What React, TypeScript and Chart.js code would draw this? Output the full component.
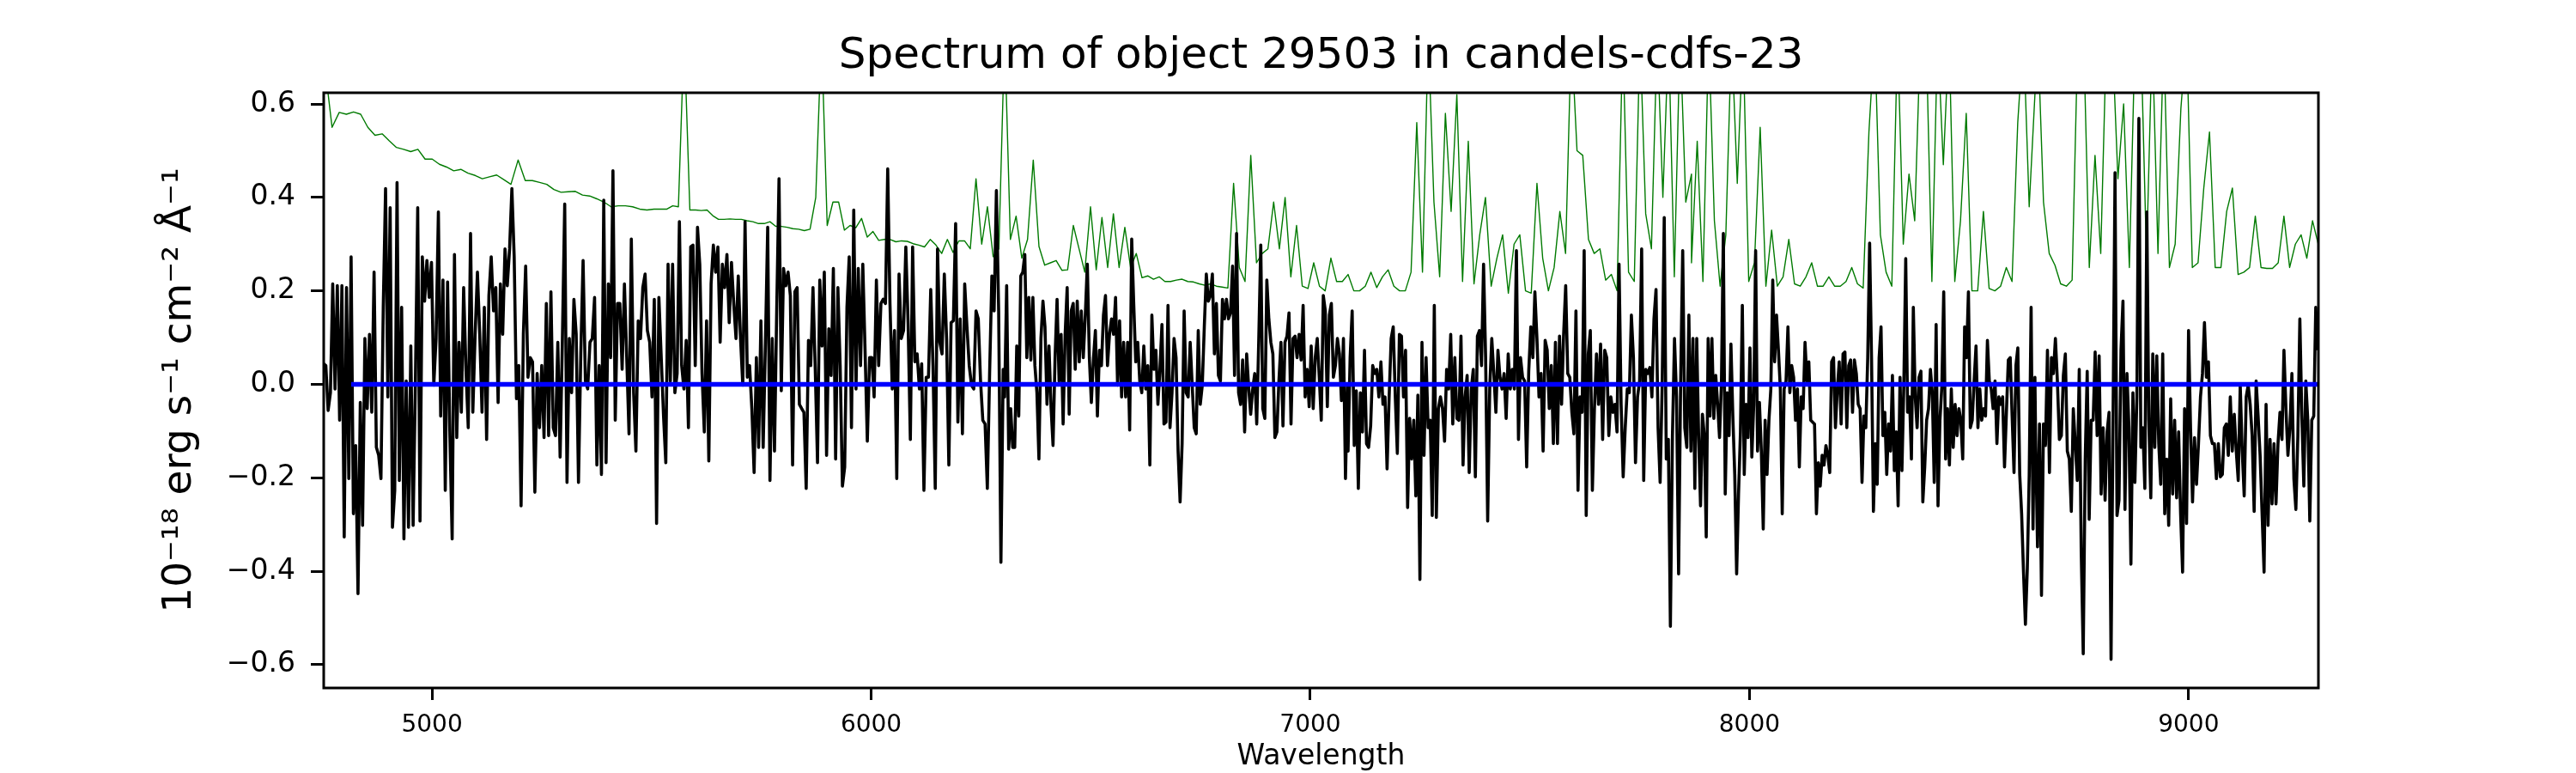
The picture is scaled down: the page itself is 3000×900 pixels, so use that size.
import { useEffect, useRef } from 'react';
import { Chart, registerables } from 'chart.js';

Chart.register(...registerables);

const TITLE = 'Spectrum of object 29503 in candels-cdfs-23';
const X_LABEL = 'Wavelength';
const Y_LABEL = '10⁻¹⁸ erg s⁻¹ cm⁻² Å⁻¹';

const X_MIN = 4753.5;
const X_MAX = 9295.5;
const Y_MIN = -0.65;
const Y_MAX = 0.624;

const X_TICKS = [5000, 6000, 7000, 8000, 9000];
const Y_TICKS = [-0.6, -0.4, -0.2, 0, 0.2, 0.4, 0.6];

// flux (Å range per piece below)
const FLUX_1 = [
  0.044, 0.04, -0.056, -0.018, 0.215, -0.01, 0.211, -0.077, 0.211, -0.327,
  0.207, -0.202, 0.273, -0.277, -0.131, -0.448, -0.039, -0.302, 0.098, -0.052,
  0.107, -0.06, 0.24, -0.135, -0.152, -0.202, 0.165, 0.419, -0.027, 0.378,
  -0.306, -0.227, 0.432, -0.206, 0.165, -0.331, 0.007, -0.306, 0.082, -0.302,
  0.007, 0.378, -0.293, 0.273, 0.178, 0.265, 0.186, 0.261, -0.002, 0.098,
  0.369, -0.068, 0.223, -0.227, 0.219, -0.11, -0.331, 0.278, -0.114, 0.09,
  -0.06, 0.207, 0.032, -0.093, 0.323, -0.06, 0.107, 0.24, 0.107, -0.06,
  0.165, -0.118, 0.19, 0.273, 0.157, 0.207, -0.039, 0.215, 0.107, 0.29,
  0.211, 0.29, 0.419, 0.273, -0.031, 0.04, -0.26, 0.107, 0.253, 0.015,
  0.057, 0.048, -0.231, 0.023, -0.093, 0.04, -0.114, 0.173, -0.11, 0.198,
  -0.093, -0.11, 0.09, -0.156, 0.098, 0.386, -0.21, 0.098, -0.018, 0.182,
  0.107, -0.21, 0.065, 0.265, 0.007, -0.01, 0.09, 0.098, 0.186, -0.173,
  0.04, -0.193, 0.394, -0.168, 0.215, 0.057, 0.457, -0.077, 0.173, 0.173,
  0.032, 0.215, 0.057, -0.106, 0.311, -0.018, -0.143, 0.136, 0.098, 0.207,
  0.236, 0.115, 0.09, -0.027, 0.182, -0.298, 0.186,
];
const FLUX_2 = [
  -0.068, -0.168, 0.257, 0.007, 0.257, -0.018, 0.023, 0.348, 0.04, -0.01,
  0.094, -0.093, 0.294, 0.298, 0.04, 0.336, 0.257, 0.023, -0.102, 0.136,
  -0.164, 0.215, 0.298, 0.24, 0.294, 0.09, 0.257, 0.207, 0.278, 0.132,
  0.261, 0.173, 0.098, 0.232, 0.098, -0.002, 0.348, 0.015, 0.04, -0.052,
  -0.189, 0.057, -0.135, 0.136, -0.135, 0.09, 0.336, -0.206, 0.098, -0.143,
  0.165, 0.44, -0.014, 0.248, 0.211, 0.24, 0.19, -0.173, 0.198, 0.207,
  -0.043, -0.052, -0.06, -0.223, 0.094, 0.04, 0.207, 0.032, -0.168, 0.223,
  0.082, 0.24, -0.152, 0.119, 0.019, 0.248, -0.16, 0.207, 0.04, -0.218,
  -0.177, 0.165, 0.273, -0.093, 0.373, -0.01, 0.248, 0.04, 0.257, 0.073,
  -0.122, 0.057, 0.057, -0.027, 0.223, 0.04, 0.173, 0.182, 0.173, 0.461,
  0.173, -0.01, 0.115, -0.202, 0.236, 0.098, 0.115, 0.294, 0.132, -0.118,
  0.294, 0.048, 0.065, -0.01, 0.044, -0.227, 0.015, 0.015, 0.203, 0.04,
  -0.223, 0.29, 0.09, 0.065, 0.236, 0.098, -0.173, 0.132, 0.136, 0.344,
  -0.081, 0.14, -0.106, 0.215, 0.123, 0.04, -0.002, -0.01, 0.157, 0.14,
  0.007, -0.077, -0.085, -0.223, 0.023, 0.232, 0.157, 0.415, 0.157, -0.381,
  0.032,
];
const FLUX_3 = [
  -0.027, 0.211, -0.139, -0.052, -0.135, -0.135, 0.082, -0.068, 0.232, 0.24,
  0.278, 0.057, 0.186, 0.052, 0.186, 0.04, -0.018, -0.16, 0.098, 0.178,
  0.123, -0.043, 0.082, -0.048, -0.131, 0.057, 0.182, 0.007, 0.107, -0.085,
  0.107, 0.207, -0.064, 0.157, 0.173, 0.032, 0.178, 0.048, 0.157, 0.057,
  0.148, 0.257, 0.057, -0.039, 0.052, 0.115, -0.068, 0.073, 0.04, 0.148,
  0.19, 0.04, 0.107, 0.14, 0.107, 0.186, -0.002, 0.136, -0.027, 0.09,
  -0.027, 0.09, -0.098, 0.311, 0.173, 0.048, 0.09, 0.007, -0.018, 0.082,
  -0.01, 0.04, -0.173, 0.148, 0.032, 0.073, -0.043, 0.032, 0.128, -0.085,
  -0.081, 0.169, -0.093, -0.018, 0.098, 0.057, -0.143, -0.252, -0.127, 0.157,
  -0.018, -0.027, 0.09, -0.002, -0.093, -0.106, 0.115, -0.043, -0.002, 0.123,
  0.236, 0.178, 0.19, 0.236, 0.065, 0.173, 0.019, 0.007, 0.182, 0.14,
  0.182, 0.14, 0.153, 0.253, 0.019, 0.323, -0.018, -0.043, 0.052, -0.102,
  0.065, -0.006, -0.064, -0.01, 0.023, -0.085, 0.094, 0.298, -0.052, -0.073,
  0.223, 0.14, 0.09, 0.065, -0.114, -0.102, 0.007, 0.09, -0.089, 0.09,
  0.103, 0.153, -0.085, 0.098, 0.103, 0.057, 0.107, 0.052, 0.169, -0.027,
  0.032, -0.048, 0.082, -0.052, 0.057, 0.098, 0.015, -0.077, 0.19, 0.157,
  -0.048, 0.148, 0.173, 0.015, 0.04, 0.098, 0.065, -0.035, 0.098, -0.202,
  -0.002,
];
const FLUX_4 = [
  -0.143, 0.057, 0.157, -0.131, -0.014, -0.223, -0.018, -0.102, 0.073, -0.127,
  -0.135, -0.089, 0.04, 0.023, 0.032, -0.027, 0.048, -0.043, -0.027, -0.181,
  -0.027, 0.098, 0.123, -0.027, -0.148, 0.107, 0.103, -0.027, 0.073, -0.264,
  -0.073, -0.16, -0.077, -0.239, -0.023, -0.418, 0.09, -0.152, 0.057, -0.093,
  -0.077, -0.281, 0.169, -0.285, -0.052, -0.027, -0.052, -0.122, 0.032, -0.01,
  0.107, -0.085, 0.057, -0.073, -0.077, 0.103, -0.173, -0.027, 0.019, -0.189,
  -0.01, 0.032, -0.198, 0.103, 0.115, 0.04, 0.257, 0.057, -0.293, -0.01,
  0.098, 0.023, -0.06, 0.073, 0.015, -0.01, 0.023, -0.073, 0.065, -0.01,
  0.032, -0.01, 0.286, -0.118, 0.057, 0.015, 0.007, -0.177, 0.028, 0.123,
  0.057, 0.198, 0.098, -0.027, 0.023, -0.143, 0.094, 0.073, -0.052, 0.04,
  -0.127, 0.09, -0.127, 0.103, -0.043, 0.107, 0.211, 0.023, 0.015, -0.06,
  -0.106, 0.157, -0.227, -0.027, -0.06, 0.286, -0.281, 0.065, 0.115, -0.227,
  -0.052, 0.065, -0.043, 0.086, -0.118, 0.073, 0.057, -0.11, -0.027, -0.06,
  -0.043, -0.102, 0.257, -0.043, -0.198, -0.093, -0.01, -0.018, 0.148, 0.057,
  -0.168, -0.027, 0.007, 0.29, -0.206, 0.032, 0.023, 0.036, -0.027, 0.14,
  0.203, -0.093, -0.21, -0.002, 0.357, -0.16, -0.118, -0.518, -0.11, 0.098,
  -0.027, -0.406, 0.007, 0.286, -0.093, -0.135, 0.148, -0.143,
];
const FLUX_5 = [
  0.098, -0.223, 0.098, -0.11, -0.26, -0.064, -0.11, -0.327, 0.098, -0.068,
  0.098, -0.073, 0.019, -0.043, -0.114, 0.003, 0.323, -0.235, -0.018, -0.11,
  0.086, -0.068, -0.193, -0.406, -0.235, -0.102, 0.169, -0.193, -0.043, -0.114,
  0.078, -0.156, -0.043, 0.286, -0.143, -0.039, -0.143, -0.31, -0.077, -0.193,
  -0.077, -0.01, 0.223, 0.048, 0.148, 0.073, -0.01, -0.277, -0.01, 0.007,
  0.123, -0.018, 0.04, 0.015, -0.077, -0.01, -0.177, -0.027, -0.052, 0.09,
  0.007, 0.048, -0.077, -0.081, -0.085, -0.277, -0.168, -0.218, -0.152, -0.173,
  -0.131, -0.152, -0.189, 0.048, 0.057, -0.093, -0.01, 0.048, -0.085, 0.065,
  0.069, -0.093, 0.04, 0.052, -0.06, 0.052, 0.023, -0.043, -0.052, -0.21,
  -0.068, -0.093, 0.057, 0.302, 0.057, -0.272, -0.127, -0.214, 0.057, 0.123,
  -0.11, -0.06, -0.193, -0.085, -0.143, 0.019, -0.185, -0.102, -0.26, 0.015,
  -0.185, -0.002, 0.269, -0.06, -0.027, -0.16, 0.165, -0.027, -0.093, 0.015,
  0.028, -0.252, -0.177, -0.077, -0.052, 0.032, -0.018, -0.21, 0.128, -0.26,
  -0.077, -0.006, 0.198, -0.16, -0.052, -0.173, -0.01, -0.135, -0.043, -0.11,
  -0.052, -0.077, -0.16, 0.123, 0.057, 0.198, -0.093, -0.077, 0.007, 0.082,
  -0.093, -0.01, -0.077, -0.052, -0.068, 0.094, 0.007, -0.01, -0.052, 0.007,
  -0.127, -0.027, -0.043, -0.027, -0.177, -0.06, 0.052, 0.057, -0.068, -0.189,
  0.04, 0.078, -0.193, -0.277, -0.402, -0.514, -0.393, -0.193, 0.165, -0.31,
  0.015,
];
const FLUX_6 = [
  -0.102, -0.348, -0.085, -0.452, -0.085, -0.131, 0.073, -0.189, 0.057, 0.023,
  0.098, 0.007, -0.118, -0.11, 0.019, 0.065, -0.143, -0.16, -0.272, -0.052,
  -0.127, -0.206, 0.032, -0.36, -0.577, -0.16, 0.028, -0.289, -0.077, -0.077,
  0.069, -0.11, 0.061, -0.235, -0.093, -0.248, -0.102, -0.06, -0.589, -0.077,
  0.453, -0.281, -0.248, 0.073, 0.178, -0.268, 0.023, -0.093, -0.385, -0.018,
  -0.21, -0.027, 0.569, -0.135, -0.093, -0.223, 0.369, -0.077, -0.243, 0.065,
  -0.135, 0.061, -0.127, -0.214, 0.065, -0.277, -0.16, -0.302, -0.031, -0.235,
  -0.077, -0.243, -0.102, -0.277, -0.402, -0.052, -0.298, 0.115, -0.093, -0.252,
  -0.114, -0.214, -0.127, -0.027, 0.023, 0.132, 0.015, 0.048, -0.11, -0.127,
  -0.127, -0.202, -0.127, -0.198, -0.193, -0.093, -0.085, -0.152, -0.027, -0.143,
  -0.064, -0.143, -0.206, -0.002, -0.143, -0.239, -0.027, -0.002, -0.043, -0.11,
  -0.272, 0.007, -0.068, -0.152, -0.277, -0.402, -0.043, -0.302, -0.118, -0.256,
  -0.127, -0.256, -0.127, -0.06, -0.118, 0.073, -0.052, -0.152, -0.093, 0.023,
  -0.202, -0.268, -0.11, 0.14, -0.068, -0.218, 0.007, -0.077, -0.293, -0.077,
  -0.068, 0.165, 0.073,
];

// noise (green) spectrum, values above the top edge are sky-line spikes
const NOISE_1 = [
  0.68, 0.55, 0.582, 0.578, 0.583, 0.578, 0.55, 0.533, 0.536, 0.521,
  0.507, 0.503, 0.498, 0.503, 0.482, 0.482, 0.471, 0.465, 0.457, 0.46,
  0.452, 0.447, 0.44, 0.444, 0.448, 0.438, 0.428, 0.48, 0.436, 0.436,
  0.432, 0.428, 0.417, 0.411, 0.412, 0.413, 0.405, 0.403, 0.397, 0.39,
  0.38, 0.382, 0.382, 0.38, 0.375, 0.373, 0.375, 0.375,
];
const NOISE_2 = [
  0.375, 0.382, 0.38, 0.75, 0.373, 0.373, 0.372, 0.373, 0.361, 0.353,
  0.353, 0.354, 0.353, 0.353, 0.35, 0.348, 0.344, 0.344, 0.348, 0.338,
  0.338, 0.336, 0.333, 0.332, 0.329, 0.332, 0.4, 0.75, 0.34, 0.39,
  0.39, 0.33, 0.34, 0.335, 0.355, 0.315, 0.327, 0.308, 0.31, 0.31,
  0.305, 0.307, 0.306, 0.301, 0.298, 0.294, 0.31, 0.298, 0.28, 0.31,
  0.282, 0.307, 0.307, 0.29, 0.44, 0.3, 0.38, 0.273, 0.29,
];
const NOISE_3 = [
  0.75, 0.31, 0.36, 0.27, 0.31, 0.48, 0.295, 0.255, 0.26, 0.265,
  0.244, 0.245, 0.34, 0.29, 0.24, 0.38, 0.245, 0.357, 0.25, 0.365,
  0.25, 0.336, 0.25, 0.28, 0.228, 0.232, 0.225, 0.23, 0.22, 0.22,
  0.223, 0.225, 0.22, 0.219, 0.215, 0.212, 0.215, 0.21, 0.208, 0.206,
  0.43, 0.25, 0.22, 0.49, 0.26, 0.28, 0.29, 0.39, 0.29, 0.4,
  0.23, 0.34, 0.21, 0.205, 0.26, 0.21, 0.2, 0.27, 0.22, 0.22,
  0.235,
];
const NOISE_4 = [
  0.2, 0.2, 0.21, 0.24, 0.207, 0.23, 0.245, 0.21, 0.2, 0.2,
  0.24, 0.56, 0.24, 0.75, 0.39, 0.23, 0.58, 0.37, 0.62, 0.22,
  0.52, 0.215, 0.32, 0.4, 0.21, 0.27, 0.32, 0.195, 0.3, 0.32,
  0.2, 0.195, 0.43, 0.27, 0.2, 0.25, 0.37, 0.28, 0.75, 0.5,
  0.49, 0.31, 0.28, 0.29, 0.223, 0.235, 0.2, 0.75, 0.24, 0.22,
  0.75, 0.365, 0.29, 0.75, 0.4, 0.75, 0.23, 0.75, 0.39, 0.45,
];
const NOISE_5 = [
  0.26, 0.52, 0.22, 0.75, 0.35, 0.21, 0.32, 0.75, 0.43, 0.75,
  0.22, 0.26, 0.55, 0.21, 0.33, 0.21, 0.23, 0.31, 0.215, 0.21,
  0.23, 0.26, 0.21, 0.21, 0.23, 0.21, 0.21, 0.22, 0.25, 0.215,
  0.206, 0.54, 0.75, 0.32, 0.24, 0.21, 0.75, 0.3, 0.45, 0.35,
  0.75, 0.75, 0.22, 0.75, 0.47, 0.75, 0.22, 0.35, 0.58, 0.2,
  0.2, 0.37, 0.205, 0.2, 0.21, 0.25, 0.22, 0.56, 0.75, 0.38,
  0.62,
];
const NOISE_6 = [
  0.75, 0.39, 0.28, 0.255, 0.215, 0.21, 0.223, 0.75, 0.75, 0.25,
  0.49, 0.28, 0.75, 0.75, 0.44, 0.6, 0.25, 0.75, 0.75, 0.27,
  0.75, 0.28, 0.75, 0.25, 0.3, 0.59, 0.75, 0.25, 0.26, 0.42,
  0.54, 0.25, 0.25, 0.37, 0.42, 0.235, 0.24, 0.25, 0.36, 0.25,
  0.248, 0.248, 0.26, 0.36, 0.25, 0.3, 0.32, 0.27, 0.35, 0.3,
];

// wavelength span (Å) covered by each piece
const FLUX_PIECES: [number[], number, number][] = [
  [FLUX_1, 4753.1, 5516.7],
  [FLUX_2, 5527.3, 6300.7],
  [FLUX_3, 6304.0, 7084.7],
  [FLUX_4, 7086.0, 7866.7],
  [FLUX_5, 7871.3, 8650.0],
  [FLUX_6, 8651.4, 9294.0],
];
const NOISE_PIECES: [number[], number, number][] = [
  [NOISE_1, 4756.2, 5522.0],
  [NOISE_2, 5535.1, 6290.9],
  [NOISE_3, 6304.0, 7086.0],
  [NOISE_4, 7099.1, 7868.0],
  [NOISE_5, 7868.0, 8650.0],
  [NOISE_6, 8656.5, 9295.2],
];

const ZERO_X = [4816, 9295.5];
const ZERO_Y = [0, 0];

function spread(pieces: [number[], number, number][]) {
  const out: { x: number; y: number }[] = [];
  for (const [values, from, to] of pieces) {
    const step = (to - from) / (values.length - 1);
    values.forEach((y, i) => out.push({ x: from + i * step, y }));
  }
  return out;
}

const FONT = 'DejaVu Sans';

const frame = {
  id: 'frame',
  afterDraw(chart: Chart) {
    const { ctx, chartArea: a } = chart;
    ctx.save();
    ctx.strokeStyle = '#000';
    ctx.lineWidth = 3;
    ctx.strokeRect(a.left, a.top, a.right - a.left, a.bottom - a.top);
    ctx.restore();
  },
};

export default function App() {
  const canvasRef = useRef<HTMLCanvasElement>(null);

  useEffect(() => {
    document.body.style.margin = '0';
    if (!canvasRef.current) return;

    const chart = new Chart(canvasRef.current, {
      type: 'line',
      data: {
        datasets: [
          {
            label: 'zero',
            data: ZERO_X.map((x, i) => ({ x, y: ZERO_Y[i] })),
            borderColor: '#0000ff',
            borderWidth: 5.5,
            pointRadius: 0,
          },
          {
            label: 'flux',
            data: spread(FLUX_PIECES),
            borderColor: '#000000',
            borderWidth: 3.6,
            borderJoinStyle: 'round',
            pointRadius: 0,
          },
          {
            label: 'noise',
            data: spread(NOISE_PIECES),
            borderColor: '#007a00',
            borderWidth: 1.4,
            borderJoinStyle: 'round',
            pointRadius: 0,
          },
        ],
      },
      options: {
        responsive: false,
        devicePixelRatio: 1,
        animation: false,
        layout: { padding: { left: 0, right: 300, top: 0, bottom: 0 } },
        plugins: {
          legend: { display: false },
          tooltip: { enabled: false },
          title: {
            display: true,
            text: TITLE,
            fullSize: false,
            color: '#000',
            font: { family: FONT, size: 50, weight: 'normal', lineHeight: 1.2 },
            padding: { top: 36, bottom: 12 },
          },
        },
        scales: {
          x: {
            type: 'linear',
            min: X_MIN,
            max: X_MAX,
            afterFit: (scale) => {
              scale.height = 99;
            },
            afterBuildTicks: (scale) => {
              scale.ticks = X_TICKS.map((value) => ({ value }));
            },
            border: { display: false },
            grid: {
              drawOnChartArea: false,
              drawTicks: true,
              tickLength: 14,
              tickWidth: 3,
              tickColor: '#000',
              color: '#000',
            },
            ticks: {
              color: '#000',
              padding: 13,
              maxRotation: 0,
              font: { family: FONT, size: 28 },
              callback: (v) => String(v),
            },
            title: {
              display: true,
              text: X_LABEL,
              color: '#000',
              font: { family: FONT, size: 33, lineHeight: 1.1 },
              padding: 0,
            },
          },
          y: {
            type: 'linear',
            min: Y_MIN,
            max: Y_MAX,
            afterFit: (scale) => {
              scale.width = 377;
            },
            afterBuildTicks: (scale) => {
              scale.ticks = Y_TICKS.map((value) => ({ value }));
            },
            border: { display: false },
            grid: {
              drawOnChartArea: false,
              drawTicks: true,
              tickLength: 15,
              tickWidth: 3,
              tickColor: '#000',
              color: '#000',
            },
            ticks: {
              color: '#000',
              padding: 18,
              font: { family: FONT, size: 33 },
              callback: (v) => {
                const n = Number(v);
                const s = Math.abs(n).toFixed(1);
                return n < -1e-9 ? '\u2212' + s : s;
              },
            },
            title: {
              display: true,
              text: Y_LABEL,
              color: '#000',
              font: { family: FONT, size: 47 },
              padding: { top: 182, bottom: 0 },
            },
          },
        },
      },
      plugins: [frame],
    });

    return () => {
      chart.destroy();
    };
  }, []);

  return <canvas ref={canvasRef} width={3000} height={900} style={{ display: 'block' }} />;
}
